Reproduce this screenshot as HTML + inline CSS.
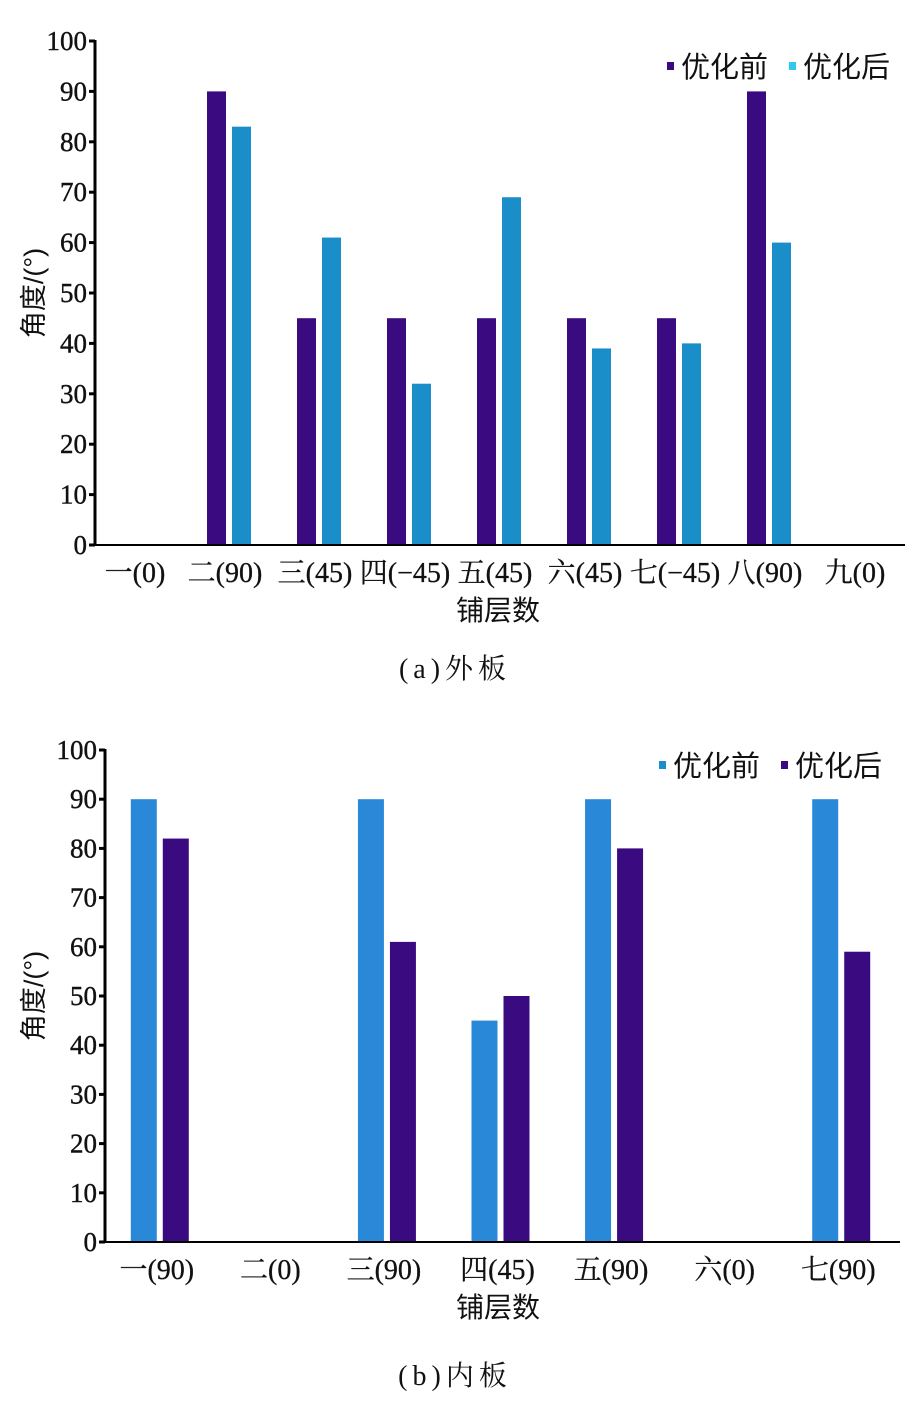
<!DOCTYPE html>
<html><head><meta charset="utf-8"><style>
body{margin:0;background:#fff;width:913px;height:1415px;overflow:hidden}
svg text{font-family:"Liberation Serif","Noto Serif CJK SC",serif;fill:#111}
.cjk{font-family:"Liberation Sans","Noto Sans CJK SC",sans-serif}
</style></head><body>
<svg id="s" width="913" height="1415" xmlns="http://www.w3.org/2000/svg"></svg>
<script>
const catsA=["一(0)","二(90)","三(45)","四(−45)","五(45)","六(45)","七(−45)","八(90)","九(0)"];
const beforeA=[0,90,45,45,45,45,45,90,0];
const afterA=[0,83,61,32,69,39,40,60,0];
const catsB=["一(90)","二(0)","三(90)","四(45)","五(90)","六(0)","七(90)"];
const beforeB=[90,0,90,45,90,0,90];
const afterB=[82,0,61,50,80,0,59];
const yTicks=[0,10,20,30,40,50,60,70,80,90,100];
const NS="http://www.w3.org/2000/svg";
const svg=document.getElementById('s');
function el(t,a,txt,p){const e=document.createElementNS(NS,t);for(const k in a)e.setAttribute(k,a[k]);if(txt!=null)e.textContent=txt;(p||svg).appendChild(e);return e;}
function chart(o){
  const g=el('g',{});
  
  
  const y=v=>o.y0-(o.y0-o.y100)*v/100;
  const cw=(o.x1-o.x0)/o.cats.length;
  const cx=i=>o.x0+cw*(i+0.5);
  o.cats.forEach((c,i)=>{
    const b=o.b[i],a=o.a[i];
    if(b>0){const r=el('rect',{x:cx(i)+o.o1,y:y(b),width:o.bw,height:y(0)-y(b),fill:o.c1},null,g);
      }
    if(a>0){const r=el('rect',{x:cx(i)+o.o2,y:y(a),width:o.bw,height:y(0)-y(a),fill:o.c2},null,g);
      }
    const t=el('text',{x:cx(i)-5,y:o.y0+37,'font-size':28,'text-anchor':'middle','stroke':'#111','stroke-width':0.3},c,g);
    
  });
  el('line',{x1:o.x0,y1:o.y100-1,x2:o.x0,y2:o.y0+1,stroke:'#000','stroke-width':3},null,g);
  el('line',{x1:o.x0,y1:o.y0,x2:o.x1,y2:o.y0,stroke:'#000','stroke-width':2},null,g);
  yTicks.forEach(v=>{
    el('line',{x1:o.x0-6,y1:y(v),x2:o.x0,y2:y(v),stroke:'#000','stroke-width':3},null,g);
    const t=el('text',{x:o.x0-8,y:y(v)+9,'font-size':27,'text-anchor':'end','stroke':'#111','stroke-width':0.4},v,g);
    
  });
  const xt=el('text',{x:498,y:o.y0+75,'font-size':28,'text-anchor':'middle',class:'cjk'},'铺层数',g);
  
  const yt=el('text',{x:0,y:0,'font-size':27,'text-anchor':'middle',class:'cjk',transform:`translate(43,${(o.y0+o.y100)/2}) rotate(-90)`},'角度/(°)',g);
  
  const cap=el('text',{x:455,y:o.cap,'font-size':28,'text-anchor':'middle','letter-spacing':5},o.capText,g);
  
  const l1=el('rect',{x:o.lx,y:o.ly-4,width:7,height:8,fill:o.lc1},null,g);
  
  const lt1=el('text',{x:o.lx+14,y:o.ly+11,'font-size':29,class:'cjk'},'优化前',g);
  
  const l2=el('rect',{x:o.lx+122,y:o.ly-4,width:7,height:8,fill:o.lc2},null,g);
  
  const lt2=el('text',{x:o.lx+136,y:o.ly+11,'font-size':29,class:'cjk'},'优化后',g);
  
}
chart({name:'chart-outer-plate',cats:catsA,b:beforeA,a:afterA,x0:95,x1:905,y0:545,y100:41,o1:-23,o2:2,bw:19,
  c1:'#3a0a80',c2:'#1a8ec8',lc1:'#3a0a80',lc2:'#30c8f0',lx:667,ly:66,cap:678,capText:'(a)外板'});
chart({name:'chart-inner-plate',cats:catsB,b:beforeB,a:afterB,x0:105,x1:900,y0:1242,y100:750,o1:-31,o2:1,bw:26,
  c1:'#2a88d8',c2:'#3a0a80',lc1:'#1a8ec8',lc2:'#3a0a80',lx:659,ly:765,cap:1385,capText:'(b)内板'});
</script>
</body></html>
